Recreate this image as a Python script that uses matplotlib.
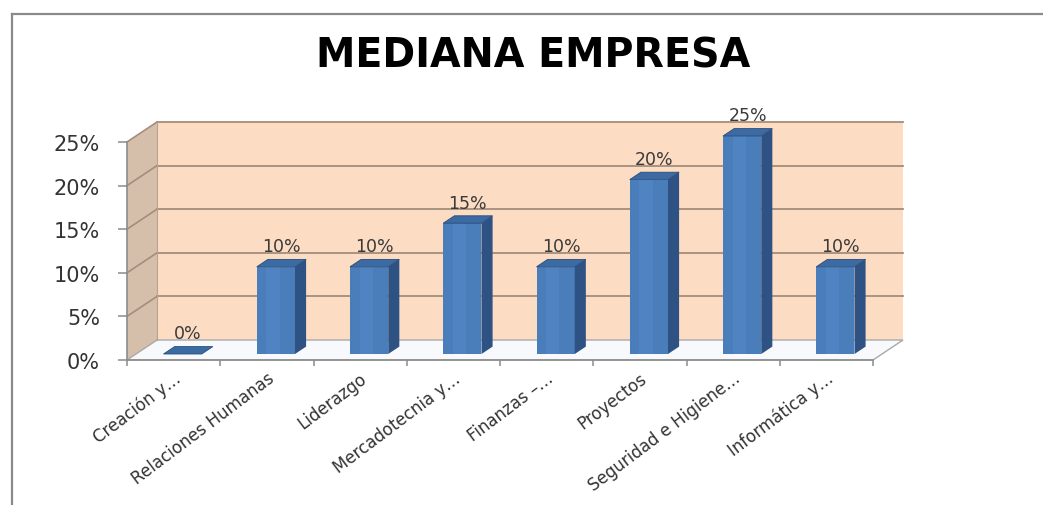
import matplotlib
matplotlib.use("Agg")
import matplotlib.pyplot as plt
from matplotlib.patches import Polygon, Rectangle
from matplotlib.lines import Line2D
from matplotlib.ticker import PercentFormatter
from matplotlib.transforms import ScaledTranslation

# ---- data ----
categories = [
    "Creación y…",
    "Relaciones Humanas",
    "Liderazgo",
    "Mercadotecnia y…",
    "Finanzas –…",
    "Proyectos",
    "Seguridad e Higiene…",
    "Informática y…",
]
values = [0.00, 0.10, 0.10, 0.15, 0.10, 0.20, 0.25, 0.10]
y_ticks = [0.00, 0.05, 0.10, 0.15, 0.20, 0.25]
title = "MEDIANA EMPRESA"

# ---- figure / layout (pixels at 100 dpi) ----
W_PX, H_PX = 1043, 506
fig = plt.figure(figsize=(W_PX / 100, H_PX / 100), dpi=100)
fig.patch.set_facecolor("white")

ax_left, ax_right = 127, 873      # front plane, x in pixels
ax_top, ax_bottom = 143, 361      # front plane, y in pixels (from top)
ax = fig.add_axes([ax_left / W_PX, 1 - ax_bottom / H_PX,
                   (ax_right - ax_left) / W_PX, (ax_bottom - ax_top) / H_PX])
n = len(categories)
ax.set_xlim(-0.5, n - 0.5)
ax.set_ylim(0, 0.25)
ax.patch.set_alpha(0)

# depth of the 3-D box, converted to data units
DEPTH_PX = (30, 20)
DX = DEPTH_PX[0] * n / (ax_right - ax_left)
DY = DEPTH_PX[1] * 0.25 / (ax_bottom - ax_top)

wall_back = "#fcdcc2"
wall_side = "#d6bfaa"
grid_col = "#a38d7c"
floor_col = "#f7f9fc"
axis_col = "#8c8c8c"

x0, x1 = -0.5, n - 0.5
ymax = 0.25

# back wall
ax.add_patch(Polygon([(x0 + DX, DY), (x1 + DX, DY), (x1 + DX, ymax + DY), (x0 + DX, ymax + DY)],
                     closed=True, facecolor=wall_back, edgecolor="none", zorder=0, clip_on=False))
# side wall
ax.add_patch(Polygon([(x0, 0), (x0 + DX, DY), (x0 + DX, ymax + DY), (x0, ymax)],
                     closed=True, facecolor=wall_side, edgecolor="none", zorder=0.5, clip_on=False))
# floor
ax.add_patch(Polygon([(x0, 0), (x1, 0), (x1 + DX, DY), (x0 + DX, DY)],
                     closed=True, facecolor=floor_col, edgecolor="#a9a9a9", lw=1.0,
                     zorder=0.6, clip_on=False))

# gridlines across the back wall and down the side wall
for yv in y_ticks[1:]:
    ax.add_line(Line2D([x0 + DX, x1 + DX], [yv + DY, yv + DY], color=grid_col, lw=1.3,
                       zorder=0.7, clip_on=False))
    ax.add_line(Line2D([x0, x0 + DX], [yv, yv + DY], color=grid_col, lw=1.2,
                       zorder=0.7, clip_on=False))
ax.add_line(Line2D([x0 + DX, x0 + DX], [DY, ymax + DY], color="#b8a493", lw=0.8,
                   zorder=0.7, clip_on=False))

# ---- bars (front face, side face, top face) ----
bar_w = 0.41
t0, t1 = 0.30, 0.67
c_front, c_side, c_top = "#4a7ebb", "#2d5283", "#3c6aa3"
for i, v in enumerate(values):
    xl = i - bar_w / 2 + t0 * DX
    xr = i + bar_w / 2 + t0 * DX
    yb = t0 * DY
    if v > 0:
        ax.add_patch(Rectangle((xl, yb), bar_w, v, facecolor=c_front, edgecolor="none",
                               zorder=2, clip_on=False))
        # lighter band to suggest the rounded shading
        ax.add_patch(Rectangle((xl + bar_w * 0.25, yb), bar_w * 0.35, v, facecolor="#5b8fd0",
                               alpha=0.35, edgecolor="none", zorder=2.1, clip_on=False))
        ax.add_patch(Polygon([(xr, yb), (xr + (t1 - t0) * DX, t1 * DY),
                              (xr + (t1 - t0) * DX, v + t1 * DY), (xr, v + yb)],
                             closed=True, facecolor=c_side, edgecolor="none", zorder=2,
                             clip_on=False))
    ax.add_patch(Polygon([(xl, v + yb), (xr, v + yb),
                          (xr + (t1 - t0) * DX, v + t1 * DY), (xl + (t1 - t0) * DX, v + t1 * DY)],
                         closed=True, facecolor=c_top, edgecolor="#2a4d7a", lw=0.6, zorder=2.2,
                         clip_on=False))
    ax.annotate(f"{v:.0%}", xy=(i + (t0 + t1) / 2 * DX, v + t1 * DY), xytext=(0, 3),
                textcoords="offset points", ha="center", va="bottom",
                fontsize=12.5, color="#3a3a3a", zorder=3, annotation_clip=False)

# ---- axes styling ----
for side in ("top", "right"):
    ax.spines[side].set_visible(False)
ax.spines["left"].set_color(axis_col)
ax.spines["bottom"].set_color(axis_col)
ax.spines["left"].set_linewidth(1.2)
ax.spines["bottom"].set_linewidth(1.2)
ax.spines["left"].set_zorder(1)
ax.spines["bottom"].set_zorder(1)

ax.set_yticks(y_ticks)
ax.yaxis.set_major_formatter(PercentFormatter(xmax=1, decimals=0))
ax.tick_params(axis="y", length=6.5, width=1.1, color=axis_col, pad=13,
               labelsize=15, labelcolor="#333333")

ax.set_xticks([k - 0.5 for k in range(n + 1)])
ax.set_xticklabels([])
ax.tick_params(axis="x", length=4, width=1.1, color=axis_col, direction="out")

label_offset = ScaledTranslation(5 / 100, -16 / 100, fig.dpi_scale_trans)
for i, lab in enumerate(categories):
    ax.text(i, 0, lab, transform=ax.transData + label_offset, rotation=37,
            rotation_mode="anchor", ha="right", va="center", fontsize=12, color="#333333")

# ---- title and outer frame ----
fig.text(533 / W_PX, 1 - 68 / H_PX, title, ha="center", va="baseline",
         fontsize=28.5, fontweight="bold", color="black")

fx = 12 / W_PX
fy = 1 - 15 / H_PX
fig.add_artist(Line2D([fx, fx], [0, fy], transform=fig.transFigure, color="#8a8a8a", lw=1.6))
fig.add_artist(Line2D([fx, 1], [fy, fy], transform=fig.transFigure, color="#8a8a8a", lw=1.6))

fig.savefig("out.png", dpi=100)
